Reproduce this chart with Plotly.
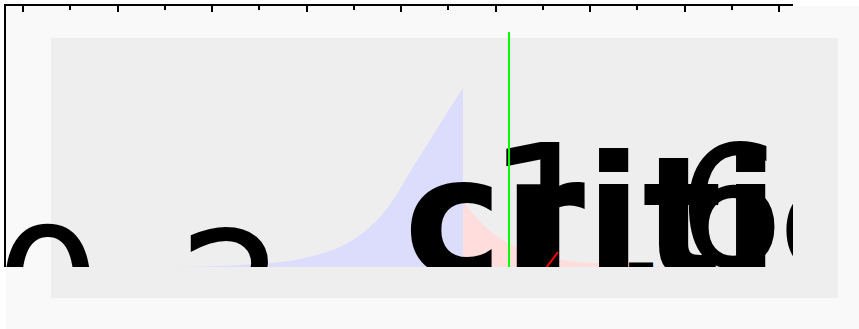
import plotly.graph_objects as go

# ---- data ----
# left (blue) region of the density curve
blue_t = [-2.656, -2.127, -1.598, -1.280, -1.069, -0.857, -0.646, -0.434,
          -0.222, -0.063, 0.095, 0.201, 0.307, 0.413, 0.519, 0.656]
blue_density = [0.000, 0.002, 0.010, 0.019, 0.031, 0.050, 0.077, 0.123,
                0.192, 0.268, 0.364, 0.425, 0.487, 0.548, 0.609, 0.686]

# right (red) tail region
tail_t = [0.656, 0.783, 0.942, 1.132, 1.365, 1.630, 1.894, 2.106,
          2.423, 2.741, 3.164, 4.011]
tail_density = [0.257, 0.195, 0.138, 0.092, 0.056, 0.033, 0.018, 0.014,
                0.006, 0.003, 0.001, 0.000]

# critical value marker
crit_t = 1.143
crit_top = 0.9

# short red statistic segment
stat_t = [1.503, 1.661]
stat_y = [-0.019, 0.057]

# labels
label_word = "critical"
label_one = "1"
label_six = "6"
label_zero = "0"
label_two = "2"
label_under = "_"

fig = go.Figure()

fig.add_trace(go.Scatter(x=blue_t, y=blue_density, mode="lines", fill="tozeroy",
                         line=dict(width=0, color="#dcdcfd", shape="spline"),
                         fillcolor="#dcdcfd",
                         hoverinfo="skip", showlegend=False))
fig.add_trace(go.Scatter(x=tail_t, y=tail_density, mode="lines", fill="tozeroy",
                         line=dict(width=0, color="#ffdddd", shape="spline"),
                         fillcolor="#ffdddd",
                         hoverinfo="skip", showlegend=False))


def big_text(txt, x, y, size, weight="normal"):
    fig.add_trace(go.Scatter(x=[x], y=[y], mode="text", text=[txt],
                             textposition="middle center", cliponaxis=True,
                             textfont=dict(family="DejaVu Sans", size=size,
                                           color="black", weight=weight),
                             hoverinfo="skip", showlegend=False))


big_text(label_zero, -3.737, -0.155, 170)
big_text(label_two, -1.793, -0.167, 170)
big_text(label_word, 3.439, 0.124, 167, "bold")
big_text(label_one, 1.541, 0.120, 194)
big_text(label_six, 3.492, 0.161, 170)
big_text(label_under, 2.540, 0.088, 48, "bold")

fig.add_trace(go.Scatter(x=[crit_t, crit_t], y=[0, crit_top], mode="lines",
                         line=dict(color="#00ff00", width=2),
                         hoverinfo="skip", showlegend=False))
fig.add_trace(go.Scatter(x=stat_t, y=stat_y, mode="lines",
                         line=dict(color="#ff0000", width=2),
                         hoverinfo="skip", showlegend=False))

fig.update_layout(
    width=859, height=329,
    margin=dict(l=6, r=66, t=6, b=62, pad=0),
    paper_bgcolor="white",
    plot_bgcolor="rgba(0,0,0,0)",
    shapes=[
        dict(type="rect", xref="paper", yref="paper", x0=0, x1=1.1, y0=-0.25, y1=1.0,
             fillcolor="#f9f9f9", line=dict(width=0), layer="below"),
        dict(type="rect", xref="paper", yref="paper", x0=0.05718, x1=1.05718,
             y0=-0.11877, y1=0.87739, fillcolor="#eeeeee", line=dict(width=0),
             layer="below"),
    ],
    xaxis=dict(range=[-4.18, 4.148], side="top", showline=True, linecolor="black",
               linewidth=2, ticks="inside", ticklen=6, tickwidth=2, tickcolor="black",
               tick0=0, dtick=1, showticklabels=False, showgrid=False, zeroline=False,
               minor=dict(ticks="inside", ticklen=4, tickwidth=2, tickcolor="black",
                          dtick=0.5, tick0=0, showgrid=False)),
    yaxis=dict(range=[0, 1], showline=True, linecolor="black", linewidth=2,
               ticks="", showticklabels=False, showgrid=False, zeroline=False),
)

fig.write_html("out.html", config={"displayModeBar": False},
               post_script="document.body.style.margin='0';document.body.style.overflow='hidden';")
